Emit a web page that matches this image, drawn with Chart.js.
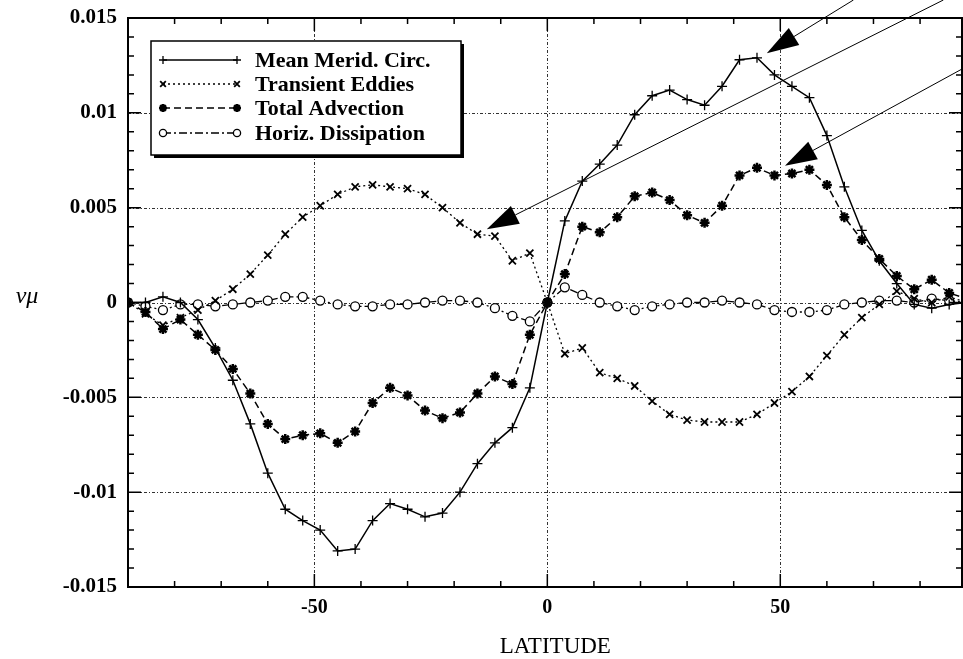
<!DOCTYPE html>
<html lang="en">
<head>
<meta charset="UTF-8" />
<title>Latitude budget</title>
<script src="https://cdn.jsdelivr.net/npm/chart.js"></script>
<style>
  html, body { margin: 0; padding: 0; background: #fff; }
  canvas { display: block; }
</style>
</head>
<body>
<canvas id="myChart" width="963" height="659"></canvas>
<script>
  // latitudes of the model grid points
  const lat = [-90, -86.25, -82.5, -78.75, -75, -71.25, -67.5, -63.75, -60, -56.25,
    -52.5, -48.75, -45, -41.25, -37.5, -33.75, -30, -26.25, -22.5, -18.75,
    -15, -11.25, -7.5, -3.75, 0, 3.75, 7.5, 11.25, 15, 18.75,
    22.5, 26.25, 30, 33.75, 37.5, 41.25, 45, 48.75, 52.5, 56.25,
    60, 63.75, 67.5, 71.25, 75, 78.75, 82.5, 86.25, 90];

  const meanMerid = [0, 0.0000, 0.0003, 0.0000, -0.0009, -0.0024, -0.0041, -0.0064, -0.0090, -0.0109,
    -0.0115, -0.0120, -0.0131, -0.0130, -0.0115, -0.0106, -0.0109, -0.0113, -0.0111, -0.0100,
    -0.0085, -0.0074, -0.0066, -0.0045, 0, 0.0043, 0.0064, 0.0073, 0.0083, 0.0099,
    0.0109, 0.0112, 0.0107, 0.0104, 0.0114, 0.0128, 0.0129, 0.0120, 0.0114, 0.0108,
    0.0088, 0.0061, 0.0038, 0.0022, 0.0010, -0.0001, -0.0003, -0.0001, 0];

  const transient = [0, -0.0006, -0.0012, -0.0008, -0.0004, 0.0001, 0.0007, 0.0015, 0.0025, 0.0036,
    0.0045, 0.0051, 0.0057, 0.0061, 0.0062, 0.0061, 0.0060, 0.0057, 0.0050, 0.0042,
    0.0036, 0.0035, 0.0022, 0.0026, 0, -0.0027, -0.0024, -0.0037, -0.0040, -0.0044,
    -0.0052, -0.0059, -0.0062, -0.0063, -0.0063, -0.0063, -0.0059, -0.0053, -0.0047, -0.0039,
    -0.0028, -0.0017, -0.0008, -0.0001, 0.0006, 0.0002, 0.0000, 0.0003, 0];

  const totalAdv = [0, -0.0005, -0.0014, -0.0009, -0.0017, -0.0025, -0.0035, -0.0048, -0.0064, -0.0072,
    -0.0070, -0.0069, -0.0074, -0.0068, -0.0053, -0.0045, -0.0049, -0.0057, -0.0061, -0.0058,
    -0.0048, -0.0039, -0.0043, -0.0017, 0, 0.0015, 0.0040, 0.0037, 0.0045, 0.0056,
    0.0058, 0.0054, 0.0046, 0.0042, 0.0051, 0.0067, 0.0071, 0.0067, 0.0068, 0.0070,
    0.0062, 0.0045, 0.0033, 0.0023, 0.0014, 0.0007, 0.0012, 0.0005, 0.0002];

  const horizDiss = [0, -0.0002, -0.0004, -0.0001, -0.0001, -0.0002, -0.0001, 0, 0.0001, 0.0003,
    0.0003, 0.0001, -0.0001, -0.0002, -0.0002, -0.0001, -0.0001, 0, 0.0001, 0.0001,
    0, -0.0003, -0.0007, -0.0010, 0, 0.0008, 0.0004, 0, -0.0002, -0.0004,
    -0.0002, -0.0001, 0, 0, 0.0001, 0, -0.0001, -0.0004, -0.0005, -0.0005,
    -0.0004, -0.0001, 0, 0.0001, 0.0001, 0, 0.0002, 0.0001, 0];

  const seriesNames = ["Mean Merid. Circ.", "Transient Eddies", "Total Advection", "Horiz. Dissipation"];
  const xTickLabels = [-50, 0, 50];
  const yTickLabels = [-0.015, -0.01, -0.005, 0, 0.005, 0.01, 0.015];

  // annotation arrows, tip and tail in data units
  const arrows = [
    { tip: [47.1, 0.01314], tail: [65.7, 0.01595] },
    { tip: [-13.0, 0.00386], tail: [85.0, 0.01595] },
    { tip: [51.0, 0.00721], tail: [97.2, 0.01341] },
  ];

  const serif = "'Liberation Serif', 'DejaVu Serif', serif";
  Chart.defaults.font.family = serif;
  Chart.defaults.color = "#000";

  const toPoints = (arr) => lat.map((x, i) => ({ x, y: arr[i] }));

  const datasets = [
    {
      label: seriesNames[0], data: toPoints(meanMerid),
      borderColor: "#000", borderWidth: 1.5, borderDash: [],
      pointStyle: "cross", pointRadius: 5, pointBorderWidth: 1.3,
      pointBorderColor: "#000", pointBackgroundColor: "#000",
    },
    {
      label: seriesNames[1], data: toPoints(transient),
      borderColor: "#000", borderWidth: 1.3, borderDash: [2, 3],
      pointStyle: "crossRot", pointRadius: 5, pointBorderWidth: 1.8,
      pointBorderColor: "#000", pointBackgroundColor: "#000",
    },
    {
      label: seriesNames[2], data: toPoints(totalAdv),
      borderColor: "#000", borderWidth: 1.5, borderDash: [7, 4],
      pointStyle: "star", pointRadius: 5, pointBorderWidth: 2.5,
      pointBorderColor: "#000", pointBackgroundColor: "#000",
    },
    {
      label: seriesNames[3], data: toPoints(horizDiss),
      borderColor: "#000", borderWidth: 1.3, borderDash: [8, 3, 2, 3],
      pointStyle: "circle", pointRadius: 4.5, pointBorderWidth: 1.3,
      pointBorderColor: "#000", pointBackgroundColor: "#fff",
    },
  ];

  const frame = {
    id: "frame",
    beforeDatasetsDraw(chart) {
      const { ctx, chartArea: a, scales } = chart;
      ctx.save();
      ctx.strokeStyle = "#333";
      ctx.lineWidth = 1;
      ctx.setLineDash([3, 2, 1, 2]);
      xTickLabels.forEach((v) => {
        const x = Math.round(scales.x.getPixelForValue(v)) + 0.5;
        ctx.beginPath(); ctx.moveTo(x, a.top); ctx.lineTo(x, a.bottom); ctx.stroke();
      });
      yTickLabels.filter((v) => Math.abs(v) < 0.012).forEach((v) => {
        const y = Math.round(scales.y.getPixelForValue(v)) + 0.5;
        ctx.beginPath(); ctx.moveTo(a.left, y); ctx.lineTo(a.right, y); ctx.stroke();
      });
      ctx.restore();
    },
    afterDraw(chart) {
      const { ctx, chartArea: a, scales } = chart;
      const sx = scales.x, sy = scales.y;
      ctx.save();
      ctx.setLineDash([]);
      ctx.strokeStyle = "#000";

      // box
      ctx.lineWidth = 2;
      ctx.strokeRect(a.left, a.top, a.right - a.left, a.bottom - a.top);

      // inward ticks on all four sides
      ctx.lineWidth = 1.5;
      for (let v = -80; v <= 80; v += 10) {
        const x = sx.getPixelForValue(v);
        const len = v % 50 === 0 ? 13 : 6;
        ctx.beginPath();
        ctx.moveTo(x, a.bottom); ctx.lineTo(x, a.bottom - len);
        ctx.moveTo(x, a.top); ctx.lineTo(x, a.top + len);
        ctx.stroke();
      }
      for (let k = -14; k <= 14; k++) {
        const y = sy.getPixelForValue(k / 1000);
        const len = k % 5 === 0 ? 13 : 6;
        ctx.beginPath();
        ctx.moveTo(a.left, y); ctx.lineTo(a.left + len, y);
        ctx.moveTo(a.right, y); ctx.lineTo(a.right - len, y);
        ctx.stroke();
      }

      // axis titles
      ctx.fillStyle = "#000";
      ctx.font = "23px " + serif;
      ctx.textAlign = "center";
      ctx.textBaseline = "middle";
      ctx.fillText("LATITUDE", sx.getPixelForValue(0) + 8, 647);
      ctx.font = "italic 24px " + serif;
      ctx.textBaseline = "alphabetic";
      ctx.fillText("v\u03BC", 27, sy.getPixelForValue(0));

      // arrows
      arrows.forEach((ar) => {
        const tx = sx.getPixelForValue(ar.tip[0]), ty = sy.getPixelForValue(ar.tip[1]);
        const ex = sx.getPixelForValue(ar.tail[0]), ey = sy.getPixelForValue(ar.tail[1]);
        const ang = Math.atan2(ey - ty, ex - tx);
        const L = 32, W = 10;
        const bx = tx + L * Math.cos(ang), by = ty + L * Math.sin(ang);
        ctx.lineWidth = 1;
        ctx.beginPath(); ctx.moveTo(bx, by); ctx.lineTo(ex, ey); ctx.stroke();
        ctx.beginPath();
        ctx.moveTo(tx, ty);
        ctx.lineTo(bx - W * Math.sin(ang), by + W * Math.cos(ang));
        ctx.lineTo(bx + W * Math.sin(ang), by - W * Math.cos(ang));
        ctx.closePath();
        ctx.fill();
      });

      // legend box with shadow
      const lx = 151, ly = 41, lw = 310, lh = 114;
      ctx.fillStyle = "#000";
      ctx.fillRect(lx + 3, ly + 3, lw, lh);
      ctx.fillStyle = "#fff";
      ctx.fillRect(lx, ly, lw, lh);
      ctx.lineWidth = 1.5;
      ctx.strokeRect(lx, ly, lw, lh);

      const rows = [60, 84, 108, 133];
      chart.data.datasets.forEach((ds, i) => {
        const y = rows[i];
        ctx.strokeStyle = "#000";
        ctx.lineWidth = ds.borderWidth;
        ctx.setLineDash(ds.borderDash);
        ctx.beginPath(); ctx.moveTo(163, y); ctx.lineTo(237, y); ctx.stroke();
        ctx.setLineDash([]);
        ctx.lineWidth = ds.pointBorderWidth;
        ctx.fillStyle = ds.pointBackgroundColor;
        const po = { pointStyle: ds.pointStyle, radius: ds.pointRadius * 0.8, borderWidth: ds.pointBorderWidth, rotation: 0 };
        Chart.helpers.drawPoint(ctx, po, 163, y);
        Chart.helpers.drawPoint(ctx, po, 237, y);
        ctx.fillStyle = "#000";
        ctx.font = "bold 22px " + serif;
        ctx.textAlign = "left";
        ctx.textBaseline = "middle";
        ctx.fillText(ds.label, 255, y + 1);
      });
      ctx.restore();
    },
  };

  new Chart(document.getElementById("myChart"), {
    type: "line",
    data: { datasets },
    options: {
      responsive: false,
      animation: false,
      layout: { autoPadding: false, padding: { top: 18, right: 1, left: 0, bottom: 0 } },
      plugins: { legend: { display: false }, tooltip: { enabled: false } },
      elements: { line: { tension: 0 } },
      scales: {
        x: {
          type: "linear", min: -90, max: 89,
          grid: { display: false, drawTicks: true, tickLength: 9 },
          border: { display: false },
          afterBuildTicks: (s) => { s.ticks = xTickLabels.map((v) => ({ value: v })); },
          afterFit: (s) => { s.height = 72; s.paddingLeft = 0; s.paddingRight = 0; },
          ticks: { font: { size: 20, weight: "bold" }, padding: 0, maxRotation: 0 },
        },
        y: {
          type: "linear", min: -0.015, max: 0.015,
          grid: { display: false, drawTicks: true, tickLength: 11 },
          border: { display: false },
          afterBuildTicks: (s) => { s.ticks = yTickLabels.map((v) => ({ value: v })); },
          afterFit: (s) => { s.width = 128; },
          ticks: {
            font: { size: 21, weight: "bold" }, padding: 0,
            callback: (v) => String(Number(Number(v).toFixed(3))),
          },
        },
      },
    },
    plugins: [frame],
  });
</script>
</body>
</html>
